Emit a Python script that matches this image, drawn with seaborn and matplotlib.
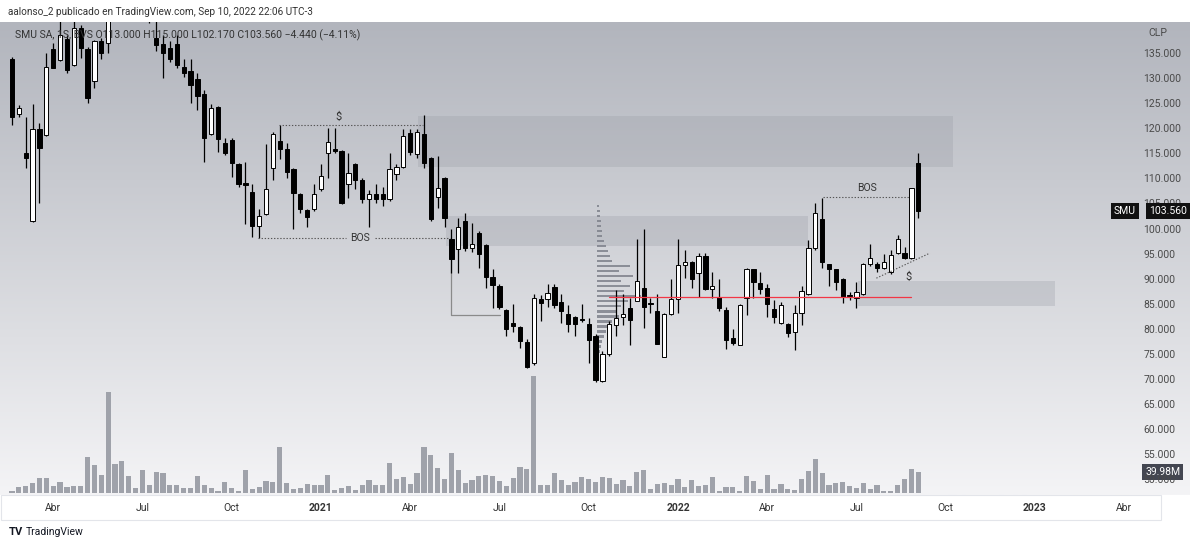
import numpy as np
import pandas as pd
import matplotlib
matplotlib.use("Agg")
import matplotlib.pyplot as plt
import seaborn as sns
from matplotlib.patches import Rectangle
from matplotlib.transforms import blended_transform_factory
from matplotlib.colors import to_rgb

# ---------------- data (weekly bars, SMU SA, BVS) ----------------
first_week = "2020-02-24"
opens = [133.9, 122.8, 115.1, 101.5, 119.8, 118.6, 135.7, 133.7, 137.8, 132.7,
         139.9, 135.7, 129.5, 137.3, 136.9, 143.0, 146.5, 144.0, 148.0, 145.5,
         145.0, 137.9, 136.8, 135.9, 136.8, 132.3, 131.5, 129.8, 126.8, 118.8,
         124.2, 117.0, 117.7, 112.9, 109.0, 107.2, 100.6, 102.9, 112.0, 117.5,
         115.8, 111.9, 106.9, 103.7, 103.9, 107.9, 115.1, 115.9, 115.5, 108.9,
         112.9, 109.6, 105.8, 106.9, 106.9, 105.8, 110.9, 112.2, 119.0, 114.9,
         118.8, 114.0, 106.3, 110.0, 97.9, 95.9, 101.4, 96.1, 99.2, 96.7,
         90.3, 88.5, 83.8, 81.1, 80.4, 77.4, 73.2, 85.9, 86.0, 88.3,
         85.4, 82.9, 82.4, 81.9, 80.9, 78.6, 69.5, 75.0, 80.8, 82.4,
         84.1, 85.6, 88.1, 85.0, 83.6, 74.4, 83.0, 86.0, 92.7, 93.4,
         91.1, 94.5, 87.9, 86.3, 83.8, 78.1, 76.8, 86.1, 91.9, 89.2,
         88.1, 83.9, 81.2, 81.0, 79.4, 83.2, 87.0, 96.1, 101.9, 92.9,
         91.9, 89.9, 86.6, 86.1, 87.0, 92.9, 92.9, 92.1, 91.4, 95.1,
         95.2, 94.1, 113.0]
highs = [134.2, 124.6, 122.3, 124.8, 121.0, 134.9, 136.9, 142.0, 138.5, 141.5,
         140.5, 136.2, 137.5, 138.0, 145.0, 148.0, 150.0, 149.0, 152.0, 148.0,
         146.0, 142.0, 138.6, 137.3, 138.6, 133.9, 133.9, 131.0, 127.6, 124.8,
         124.5, 118.1, 118.0, 113.0, 113.2, 108.9, 103.8, 116.8, 119.3, 120.6,
         117.0, 112.0, 107.0, 103.8, 108.9, 112.9, 120.0, 120.0, 115.6, 115.0,
         113.0, 110.0, 107.7, 108.9, 108.2, 115.0, 112.9, 119.8, 119.8, 119.8,
         122.6, 114.2, 114.5, 110.2, 100.0, 102.0, 103.0, 101.0, 99.5, 97.0,
         91.9, 88.9, 84.0, 84.9, 80.6, 77.9, 87.0, 86.7, 88.9, 88.9,
         87.0, 84.7, 82.6, 84.9, 82.1, 79.0, 75.5, 81.5, 87.7, 86.9,
         86.1, 98.0, 100.0, 86.1, 87.0, 83.2, 89.9, 98.0, 95.7, 93.6,
         95.2, 95.1, 91.4, 89.9, 84.3, 79.9, 85.0, 92.1, 92.0, 91.4,
         88.9, 85.7, 85.4, 81.2, 84.8, 88.5, 97.7, 105.0, 106.0, 93.0,
         92.0, 90.2, 87.4, 89.4, 93.2, 96.9, 93.4, 94.9, 95.7, 98.7,
         96.4, 108.0, 115.0]
lows = [120.6, 122.2, 112.1, 101.3, 105.0, 118.5, 132.0, 133.5, 131.0, 132.5,
        134.1, 125.0, 128.0, 133.9, 134.9, 141.5, 143.0, 142.0, 144.0, 142.0,
        141.0, 135.3, 130.0, 133.3, 132.0, 130.3, 125.0, 123.6, 113.3, 118.7,
        115.2, 114.7, 110.3, 108.2, 100.9, 98.4, 98.1, 102.7, 109.7, 113.9,
        110.0, 100.0, 103.0, 100.4, 103.4, 107.5, 110.0, 115.0, 104.8, 106.0,
        107.8, 105.0, 100.4, 105.0, 104.5, 105.5, 109.6, 112.0, 114.7, 114.0,
        112.0, 101.4, 104.0, 100.4, 91.1, 91.1, 95.5, 95.4, 92.1, 88.1,
        84.1, 84.0, 78.6, 79.4, 76.1, 72.1, 72.8, 81.6, 84.4, 84.1,
        81.1, 79.4, 78.6, 81.4, 73.1, 69.3, 69.3, 74.5, 78.6, 80.8,
        76.8, 85.5, 80.1, 83.1, 77.0, 74.3, 82.8, 83.1, 90.1, 88.1,
        86.4, 87.7, 86.1, 83.6, 75.9, 76.8, 76.7, 82.8, 86.1, 86.9,
        82.4, 81.2, 81.0, 78.4, 75.8, 80.8, 86.8, 95.8, 92.1, 88.5,
        87.7, 85.2, 85.7, 84.1, 86.8, 92.5, 91.4, 91.9, 91.0, 94.9,
        93.9, 94.0, 102.17]
closes = [122.3, 124.0, 114.1, 119.8, 116.0, 132.3, 132.1, 138.6, 131.7, 139.9,
          135.9, 126.0, 137.3, 134.9, 143.0, 146.5, 144.0, 148.0, 145.5, 145.0,
          141.5, 136.6, 134.9, 133.9, 132.6, 131.1, 128.6, 126.4, 118.0, 124.0,
          117.9, 115.0, 113.0, 108.9, 108.7, 100.6, 102.5, 107.8, 118.8, 115.9,
          111.3, 107.0, 103.8, 102.2, 106.9, 110.5, 117.2, 115.5, 105.0, 111.0,
          109.7, 105.8, 106.9, 105.8, 105.8, 111.9, 112.2, 118.4, 115.3, 119.3,
          113.1, 101.8, 108.0, 102.0, 93.9, 100.4, 96.1, 96.9, 94.9, 90.4,
          88.7, 84.3, 80.0, 80.6, 77.6, 72.4, 86.1, 85.2, 87.2, 84.8,
          83.6, 80.9, 80.9, 81.8, 77.8, 69.7, 75.0, 80.9, 82.1, 82.9,
          81.8, 89.6, 84.4, 84.9, 77.0, 83.0, 86.0, 92.7, 93.4, 89.9,
          94.5, 87.9, 88.5, 84.1, 77.8, 77.1, 84.8, 91.9, 89.4, 87.9,
          85.0, 82.3, 84.8, 79.2, 83.1, 87.6, 96.1, 103.0, 93.4, 91.9,
          89.4, 86.4, 86.5, 87.4, 92.9, 94.1, 92.1, 93.4, 94.7, 97.9,
          94.1, 108.0, 103.56]
volumes_m = [3.8, 11.8, 13.7, 20.1, 28.2, 28.2, 13.7, 21.2, 11.8, 13.7,
             13.2, 69.0, 54.0, 33.8, 189.3, 55.1, 61.5, 32.5, 9.4, 43.8,
             16.4, 40.0, 38.9, 16.4, 16.4, 9.4, 10.7, 32.5, 15.0, 9.4,
             3.8, 21.2, 9.4, 5.1, 43.8, 8.1, 12.6, 23.9, 21.2, 87.0,
             18.8, 8.1, 10.7, 17.5, 16.4, 15.0, 33.8, 6.2, 10.0, 13.7,
             6.2, 16.4, 25.0, 16.4, 15.0, 57.7, 27.6, 31.4, 17.5, 37.6,
             87.0, 72.0, 47.6, 26.3, 75.2, 43.8, 18.8, 25.0, 32.5, 33.8,
             32.5, 23.9, 13.7, 28.8, 50.2, 46.4, 220.5, 16.4, 15.0, 37.6,
             25.0, 15.0, 21.2, 31.4, 27.6, 21.2, 30.1, 28.8, 17.5, 25.0,
             13.7, 40.0, 43.8, 8.8, 17.5, 18.8, 15.0, 26.3, 12.6, 25.0,
             13.7, 15.0, 31.4, 3.8, 12.6, 12.6, 5.1, 32.5, 22.6, 8.8,
             33.8, 8.8, 17.5, 8.8, 6.2, 26.3, 42.7, 63.9, 37.6, 15.0,
             18.8, 21.2, 13.7, 10.0, 18.8, 8.8, 16.4, 5.1, 3.8, 16.4,
             26.3, 45.1, 39.98]

price_ticks = [50, 55, 60, 65, 70, 75, 80, 85, 90, 95, 100, 105, 110, 115,
               120, 125, 130, 135]
time_labels = ["Abr", "Jul", "Oct", "2021", "Abr", "Jul", "Oct", "2022",
               "Abr", "Jul", "Oct", "2023", "Abr"]
time_dates = ["2020-04-01", "2020-07-01", "2020-10-01", "2021-01-01",
              "2021-04-01", "2021-07-01", "2021-10-01", "2022-01-01",
              "2022-04-01", "2022-07-01", "2022-10-01", "2023-01-01",
              "2023-04-01"]

# fixed-range volume profile (price level -> relative volume)
profile_levels = [74.5, 75.5, 76.5, 77.5, 78.5, 79.5, 80.5, 81.5, 82.5, 83.5,
                  84.5, 85.5, 86.5, 87.5, 88.5, 89.5, 90.5, 91.5, 92.5, 93.5,
                  94.5, 95.5, 96.5, 97.5, 98.5, 99.5, 100.5, 101.5, 102.5,
                  103.5, 104.5]
profile_volume = [2, 3, 4, 5, 6, 8, 12, 14, 20, 18, 22, 28, 40, 25, 30, 22,
                  33, 20, 30, 14, 12, 10, 8, 6, 5, 5, 4, 4, 3, 3, 2]

last_close = 103.56
last_volume = 39.98

# ---------------- figure ----------------
sns.set_theme(style="white")
plt.rcParams["font.family"] = ["Roboto", "DejaVu Sans"]

W, H = 1200, 546
fig = plt.figure(figsize=(W / 100, H / 100), dpi=100)
fig.patch.set_facecolor("white")

top_px, bot_px = 22, 495
ax_h = (bot_px - top_px) / H
ax_b = (H - bot_px) / H

# gradient background of the chart pane
bgax = fig.add_axes([0, ax_b, 1190 / W, ax_h], zorder=0)
c_top = np.array(to_rgb("#b2b5bd"))
c_bot = np.array(to_rgb("#f4f4f6"))
t = np.linspace(0, 1, 256)[:, None]
grad = (c_top[None, :] * (1 - t) + c_bot[None, :] * t)[:, None, :]
bgax.imshow(grad, aspect="auto", extent=[0, 1, 0, 1])
bgax.set_axis_off()

ax = fig.add_axes([0, ax_b, 1140 / W, ax_h], zorder=2)
ax.patch.set_alpha(0)
vax = ax.twinx()
vax.set_zorder(1)
vax.patch.set_alpha(0)

idx = np.arange(len(opens))

# volume bars (seaborn)
sns.barplot(x=idx, y=volumes_m, native_scale=True, ax=vax, color="#9fa2aa",
            width=0.75, errorbar=None, saturation=1, linewidth=0)
vax.set_ylim(-3.2, 884)
vax.set_yticks([])
vax.set_xlabel("")
vax.set_ylabel("")
for s in vax.spines.values():
    s.set_visible(False)

# zones
zone_kw = dict(facecolor="#9a9da6", edgecolor="none", alpha=0.3, zorder=1)
ax.add_patch(Rectangle((59.1, 112.3), 137.05 - 59.1, 122.4 - 112.3, **zone_kw))
ax.add_patch(Rectangle((63.2, 96.5), 115.9 - 63.2, 102.5 - 96.5, **zone_kw))
ax.add_patch(Rectangle((123.2, 84.55), 151.9 - 123.2, 89.5 - 84.55, **zone_kw))

# volume profile
prof_anchor = 85.2
ax.barh(profile_levels, np.array(profile_volume) * 0.16, left=prof_anchor,
        height=0.5, color="#7f828c", alpha=0.85, zorder=2, linewidth=0)

# candles
o = np.array(opens); c = np.array(closes)
hi = np.array(highs); lo = np.array(lows)
up = c >= o
ax.vlines(idx, lo, hi, color="black", linewidth=0.9, zorder=3)
body_bottom = np.minimum(o, c)
body_h = np.maximum(np.abs(c - o), 0.15)
ax.bar(idx[up], body_h[up], bottom=body_bottom[up], width=0.62,
       color="white", edgecolor="black", linewidth=0.7, zorder=4)
ax.bar(idx[~up], body_h[~up], bottom=body_bottom[~up], width=0.62,
       color="black", edgecolor="black", linewidth=0.7, zorder=4)

# drawings
dot = dict(color="#555555", linewidth=0.8, linestyle=(0, (1.2, 1.6)), zorder=5)
ax.plot([38.9, 59.9], [120.6, 120.6], **dot)
ax.text(47.5, 122.3, "$", ha="center", va="center", fontsize=8, color="#333333", zorder=6)
ax.plot([35.8, 48.6], [98.2, 98.2], **dot)
ax.plot([52.9, 63.8], [98.1, 98.1], **dot)
ax.text(50.7, 98.2, "BOS", ha="center", va="center", fontsize=7.5, color="#333333", zorder=6)
ax.plot([118.1, 130.8], [106.35, 106.35], **dot)
ax.text(124.5, 108.1, "BOS", ha="center", va="center", fontsize=7.5, color="#333333", zorder=6)
ax.plot([125.9, 133.7], [90.1, 95.1], **dot)
ax.text(130.6, 90.4, "$", ha="center", va="center", fontsize=8, color="#333333", zorder=6)
ax.plot([63.9, 63.9, 71.1], [97.9, 82.76, 82.76], color="#8a8a8a", linewidth=0.9, zorder=2)
ax.plot([87.0, 131.0], [86.4, 86.4], color="#f23645", linewidth=0.9, zorder=5)

# axes/ticks
ax.set_xlim(-1.75, 164.3)
ax.set_ylim(46.86, 141.18)
ax.yaxis.tick_right()
ax.set_yticks(price_ticks)
ax.set_yticklabels([f"{v:.3f}" for v in price_ticks])
ax.tick_params(axis="y", length=0, pad=2.5, labelsize=7.5, labelcolor="#4a4a4a")

start_ts = pd.Timestamp(first_week)
tick_pos = []
for d in time_dates:
    ts = pd.Timestamp(d)
    ts = ts + pd.Timedelta(days=(7 - ts.weekday()) % 7)
    tick_pos.append((ts - start_ts).days / 7)
ax.set_xticks(tick_pos)
ax.set_xticklabels(time_labels)
ax.tick_params(axis="x", length=0, pad=6, labelsize=7.5, labelcolor="#333333")
for lab in ax.get_xticklabels():
    if lab.get_text().isdigit():
        lab.set_fontweight("bold")
ax.grid(False)
vax.grid(False)
for s in ax.spines.values():
    s.set_visible(False)

# time axis frame
fig.add_artist(Rectangle((0.5 / W, (H - 520) / H), 1160 / W, 25 / H,
                         transform=fig.transFigure, fill=False,
                         edgecolor="#e3e5ea", linewidth=0.8))

# price labels on scale
tr = blended_transform_factory(fig.transFigure, ax.transData)
ax.text(1114 / W, last_close, "SMU", transform=tr, ha="left", va="center",
        fontsize=7.5, color="white", zorder=10, clip_on=False,
        bbox=dict(boxstyle="square,pad=0.3", facecolor="#111111", edgecolor="none"))
ax.text(1149 / W, last_close, f"{last_close:.3f}", transform=tr, ha="left", va="center",
        fontsize=7.5, color="white", zorder=10, clip_on=False,
        bbox=dict(boxstyle="square,pad=0.3", facecolor="#111111", edgecolor="none"))
trv = blended_transform_factory(fig.transFigure, vax.transData)
vax.text(1145 / W, last_volume, f"{last_volume:.2f}M", transform=trv, ha="left", va="center",
         fontsize=7.5, color="white", zorder=10, clip_on=False,
         bbox=dict(boxstyle="square,pad=0.3", facecolor="#434651", edgecolor="none"))

# header texts
fig.text(8 / W, 1 - 12 / H, "aalonso_2 publicado en TradingView.com, Sep 10, 2022 22:06 UTC-3",
         fontsize=7.2, color="#333333", va="center", ha="left")
fig.text(15 / W, 1 - 35 / H,
         "SMU SA, 1S, BVS O113.000 H115.000 L102.170 C103.560 \u22124.440 (\u22124.11%)",
         fontsize=7.5, color="#333333", va="center", ha="left", zorder=20)
fig.text(1148 / W, 1 - 33 / H, "CLP", fontsize=7.5, color="#4a4a4a", va="center", ha="left")

# footer logo
fig.text(9 / W, 1 - 532 / H, "TV", fontsize=8, fontweight="bold", color="#131722",
         va="center", ha="left")
fig.text(26 / W, 1 - 532 / H, "TradingView", fontsize=7.5, color="#131722",
         va="center", ha="left")

fig.savefig("out.png", dpi=100)
